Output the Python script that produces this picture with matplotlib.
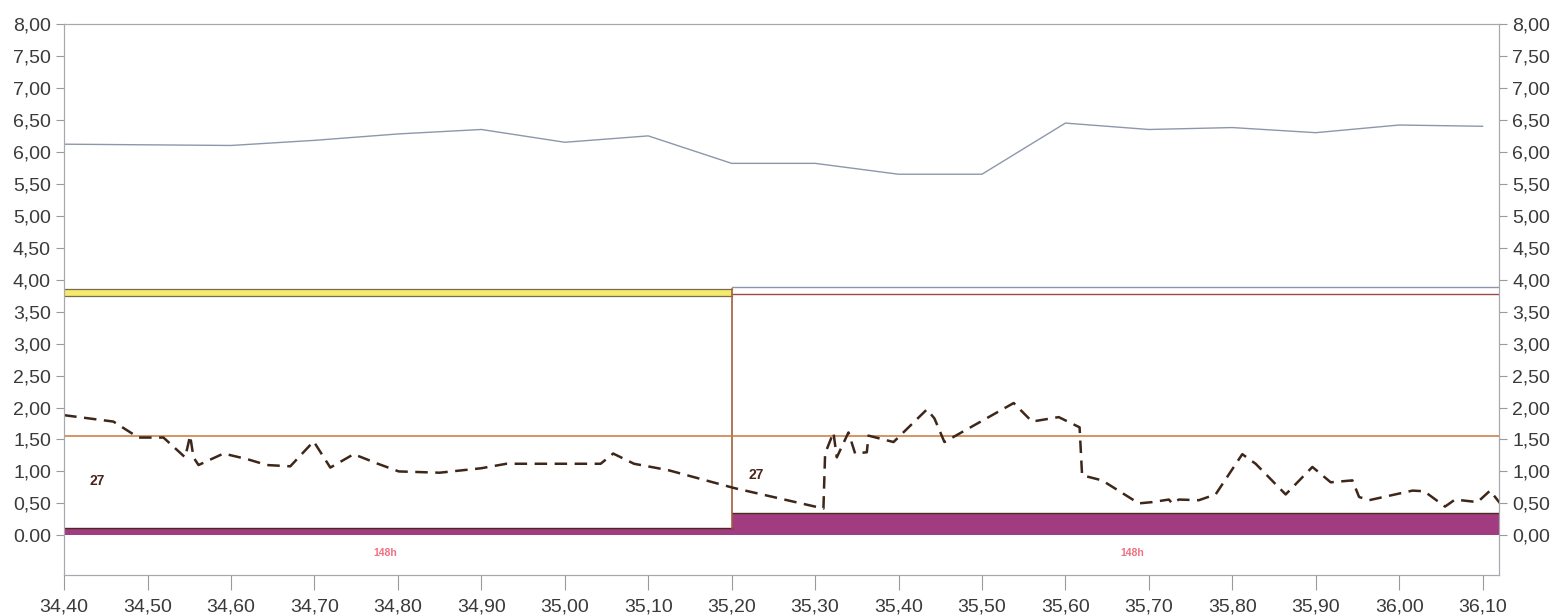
import numpy as np
import matplotlib
matplotlib.use("Agg")
import matplotlib.pyplot as plt
from matplotlib.ticker import FuncFormatter

plt.rcParams["font.family"] = ["Liberation Sans", "DejaVu Sans"]

# upper thin line
top_x = [34.40, 34.50, 34.60, 34.70, 34.80, 34.90, 35.00, 35.10, 35.20, 35.30,
         35.40, 35.50, 35.60, 35.70, 35.80, 35.90, 36.00, 36.10]
top_y = [6.12, 6.11, 6.10, 6.18, 6.28, 6.35, 6.15, 6.25, 5.82, 5.82,
         5.65, 5.65, 6.45, 6.35, 6.38, 6.30, 6.42, 6.40]

# dashed series
dash_x = [34.400, 34.459, 34.489, 34.519, 34.545, 34.551, 34.555, 34.561, 34.591,
          34.620, 34.643, 34.671, 34.699, 34.719, 34.747, 34.776, 34.801, 34.850,
          34.900, 34.930, 35.043, 35.058, 35.083, 35.124, 35.203, 35.310, 35.312,
          35.322, 35.326, 35.340, 35.348, 35.362, 35.364, 35.394, 35.434, 35.443,
          35.455, 35.538, 35.560, 35.592, 35.617, 35.620, 35.644, 35.688, 35.704,
          35.724, 35.728, 35.736, 35.760, 35.780, 35.812, 35.828, 35.864, 35.896,
          35.918, 35.944, 35.952, 35.964, 36.016, 36.030, 36.055, 36.067, 36.094,
          36.109, 36.121]
dash_y = [1.88, 1.78, 1.53, 1.53, 1.22, 1.56, 1.22, 1.10, 1.28,
          1.19, 1.10, 1.08, 1.47, 1.06, 1.27, 1.12, 1.00, 0.98,
          1.05, 1.12, 1.12, 1.28, 1.12, 1.02, 0.74, 0.42, 1.28,
          1.61, 1.22, 1.61, 1.28, 1.30, 1.56, 1.46, 1.97, 1.83,
          1.46, 2.07, 1.78, 1.85, 1.69, 0.94, 0.86, 0.50, 0.52,
          0.56, 0.50, 0.56, 0.55, 0.64, 1.27, 1.12, 0.64, 1.07,
          0.83, 0.86, 0.60, 0.55, 0.70, 0.69, 0.45, 0.56, 0.52,
          0.70, 0.50]

# segments
seg_start = [34.40, 35.20]
seg_end = [35.20, 36.12]
purple_h = [0.12, 0.35]
ref_level = 1.55
seg_label = ["27", "27"]
seg_label_x = [34.43, 35.22]
seg_label_y = [0.85, 0.95]
hour_label = ["148h", "148h"]
hour_label_x = [34.785, 35.68]

yticks = np.arange(0, 8.01, 0.5)
xticks = np.arange(34.40, 36.101, 0.10)

fig = plt.figure(figsize=(15.65, 6.16), dpi=100)
ax = fig.add_axes([0.041, 0.0666, 0.917, 0.8944])
ax.set_xlim(34.40, 36.12)
ax.set_ylim(-0.62, 8.0)

ax.plot(top_x, top_y, color="#8d97ab", lw=1.0)

# purple bands
for s, e, h in zip(seg_start, seg_end, purple_h):
    ax.fill_between([s, e], 0, h, color="#a23c80", lw=0)
    ax.plot([s, e], [h, h], color="#4a2a20", lw=1.0)

# yellow band on first segment, thin lines on second
ax.fill_between([seg_start[0], seg_end[0]], 3.75, 3.86, color="#f4ea6c", lw=0)
ax.plot([seg_start[0], seg_end[0]], [3.86, 3.86], color="#7a6a50", lw=0.9)
ax.plot([seg_start[0], seg_end[0]], [3.75, 3.75], color="#7a6a50", lw=0.9)
ax.plot([seg_start[1], seg_end[1]], [3.88, 3.88], color="#8d97ab", lw=1.0)
ax.plot([seg_start[1], seg_end[1]], [3.78, 3.78], color="#9a4a4a", lw=1.0)
ax.plot([seg_end[0], seg_end[0]], [purple_h[0], 3.86], color="#a0603a", lw=1.2)

ax.axhline(ref_level, color="#c8783c", lw=1.1)

ax.plot(dash_x, dash_y, color="#3e2618", lw=1.8, ls=(0, (5, 3)))

for t, x, y in zip(seg_label, seg_label_x, seg_label_y):
    ax.text(x, y, t, color="#4a2418", fontsize=10, fontweight="bold", va="center")
for t, x in zip(hour_label, hour_label_x):
    ax.text(x, -0.28, t, color="#f07080", fontsize=7.5, fontweight="bold",
            ha="center", va="center")

fmt = FuncFormatter(lambda v, p: ("%.2f" % v).replace(".", ","))
left_fmt = FuncFormatter(lambda v, p: "0.00" if abs(v) < 1e-9 else ("%.2f" % v).replace(".", ","))

ax.set_yticks(yticks)
ax.yaxis.set_major_formatter(left_fmt)
ax.set_xticks(xticks)
ax.xaxis.set_major_formatter(fmt)

ax2 = ax.twinx()
ax2.set_ylim(ax.get_ylim())
ax2.set_yticks(yticks)
ax2.yaxis.set_major_formatter(fmt)

for a in (ax, ax2):
    for sp in a.spines.values():
        sp.set_color("#a8a8b0")
        sp.set_linewidth(0.8)
    a.tick_params(axis="both", colors="#9a9aa0", labelcolor="#3a3a3a",
                  labelsize=14, length=6, width=0.8)
ax.tick_params(axis="x", length=11, pad=6)

fig.savefig("out.png", dpi=100)
